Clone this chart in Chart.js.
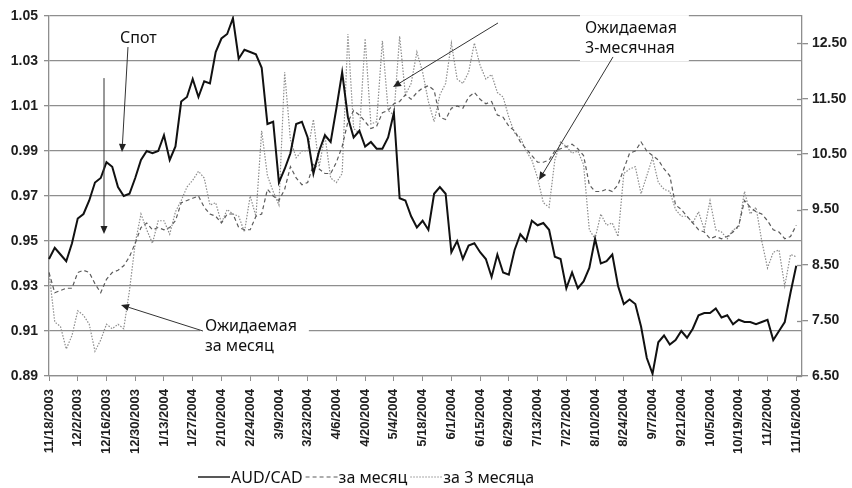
<!DOCTYPE html>
<html>
<head>
<meta charset="utf-8">
<script src="https://cdn.jsdelivr.net/npm/chart.js@4.4.1/dist/chart.umd.min.js"></script>
<style>
  html, body { margin: 0; padding: 0; background: #fff; }
</style>
</head>
<body>
<canvas id="fxChart" width="852" height="488"></canvas>
<script>
// AUD/CAD spot vs expected 1m / 3m rates, every 2nd business day from 11/18/2003

const startDate = new Date(2003, 10, 18);

const spotRate = [
  0.942, 0.947, 0.944, 0.941, 0.949, 0.960, 0.962, 0.968, 0.976, 0.978,
  0.985, 0.983, 0.974, 0.970, 0.971, 0.978, 0.986, 0.990, 0.989, 0.990,
  0.997, 0.986, 0.992, 1.012, 1.014, 1.022, 1.014, 1.021, 1.020, 1.034,
  1.040, 1.042, 1.049, 1.031, 1.035, 1.034, 1.033, 1.027, 1.002, 1.003,
  0.976, 0.982, 0.989, 1.002, 1.003, 0.996, 0.980, 0.990, 0.997, 0.994,
  1.009, 1.025, 1.005, 0.996, 0.999, 0.992, 0.994, 0.991, 0.991, 0.996,
  1.007, 0.969, 0.968, 0.961, 0.956, 0.959, 0.955, 0.971, 0.974, 0.971,
  0.945, 0.950, 0.942, 0.948, 0.949, 0.945, 0.942, 0.934, 0.944, 0.936,
  0.935, 0.946, 0.953, 0.950, 0.959, 0.957, 0.958, 0.955, 0.943, 0.942,
  0.929, 0.936, 0.929, 0.932, 0.938, 0.951, 0.940, 0.941, 0.944, 0.930,
  0.922, 0.924, 0.922, 0.912, 0.898, 0.891, 0.905, 0.908, 0.904, 0.906,
  0.910, 0.907, 0.911, 0.917, 0.918, 0.918, 0.920, 0.916, 0.917, 0.913,
  0.915, 0.914, 0.914, 0.913, 0.914, 0.915, 0.906, 0.910, 0.914, 0.927,
  0.939
];

const expected1m = [
  0.936, 0.927, 0.928, 0.929, 0.929, 0.936, 0.937, 0.936, 0.931, 0.927,
  0.933, 0.936, 0.937, 0.939, 0.943, 0.949, 0.956, 0.958, 0.955, 0.956,
  0.955, 0.956, 0.959, 0.967, 0.968, 0.969, 0.970, 0.965, 0.962, 0.961,
  0.958, 0.962, 0.962, 0.956, 0.955, 0.955, 0.961, 0.962, 0.973, 0.970,
  0.968, 0.973, 0.983, 0.978, 0.975, 0.976, 0.984, 0.982, 0.980, 0.980,
  0.985, 0.992, 1.003, 1.008, 1.006, 1.003, 1.000, 1.001, 1.007, 1.008,
  1.011, 1.012, 1.015, 1.013, 1.016, 1.018, 1.019, 1.017, 1.005, 1.004,
  1.009, 1.010, 1.009, 1.014, 1.016, 1.013, 1.011, 1.012, 1.006, 1.005,
  1.001, 0.999, 0.994, 0.991, 0.988, 0.985, 0.985, 0.986, 0.990, 0.991,
  0.992, 0.993, 0.991, 0.988, 0.975, 0.972, 0.972, 0.973, 0.972, 0.975,
  0.982, 0.989, 0.990, 0.994, 0.990, 0.988, 0.986, 0.982, 0.979, 0.966,
  0.964, 0.961, 0.958, 0.955, 0.954, 0.951, 0.952, 0.951, 0.952, 0.954,
  0.957, 0.968, 0.965, 0.963, 0.962, 0.959, 0.955, 0.954, 0.951, 0.952,
  0.957
];

const expected3m = [
  0.936, 0.914, 0.912, 0.902, 0.908, 0.919, 0.917, 0.913, 0.901, 0.906,
  0.913, 0.911, 0.913, 0.911, 0.928, 0.949, 0.962, 0.955, 0.949, 0.959,
  0.959, 0.953, 0.963, 0.968, 0.974, 0.977, 0.981, 0.978, 0.966, 0.967,
  0.958, 0.964, 0.962, 0.961, 0.954, 0.970, 0.961, 0.999, 0.979, 0.972,
  0.966, 1.025, 0.995, 0.987, 0.990, 0.990, 1.004, 0.983, 0.997, 0.978,
  0.976, 0.980, 1.042, 1.000, 0.998, 1.040, 1.002, 1.003, 1.039, 1.008,
  1.006, 1.041, 1.015, 1.020, 1.034, 1.025, 1.012, 1.003, 1.015, 1.020,
  1.038, 1.022, 1.020, 1.025, 1.038, 1.028, 1.022, 1.024, 1.016, 1.014,
  1.005, 0.998, 0.996, 0.990, 0.986, 0.978, 0.967, 0.965, 0.986, 0.994,
  0.992, 0.989, 0.990, 0.984, 0.955, 0.951, 0.962, 0.957, 0.958, 0.952,
  0.980, 0.982, 0.983, 0.971, 0.979, 0.987, 0.976, 0.973, 0.972, 0.964,
  0.961, 0.961, 0.958, 0.963, 0.955, 0.968, 0.955, 0.954, 0.951, 0.955,
  0.956, 0.972, 0.962, 0.965, 0.950, 0.938, 0.945, 0.946, 0.930, 0.944,
  0.943
];

const leftTicks = [0.89, 0.91, 0.93, 0.95, 0.97, 0.99, 1.01, 1.03, 1.05];
const rightTicks = [6.5, 7.5, 8.5, 9.5, 10.5, 11.5, 12.5];

// every 2nd business day, one extra slot past the last quote
const buildDates = (start, count, step) => {
  const out = [];
  const d = new Date(start);
  let n = 0;
  while (out.length < count) {
    const wd = d.getDay();
    if (wd !== 0 && wd !== 6) {
      if (n % step === 0) out.push((d.getMonth() + 1) + '/' + d.getDate() + '/' + d.getFullYear());
      n++;
    }
    d.setDate(d.getDate() + 1);
  }
  return out;
};
const dates = buildDates(startDate, spotRate.length + 1, 2);

// callouts, placed in (category index, rate) coordinates
const callouts = [
  { lines: ['Спот'], at: [12.35, 1.038] },
  { lines: ['Ожидаемая', 'за месяц'], at: [27.14, 0.910], box: true },
  { lines: ['Ожидаемая', '3-месячная'], at: [93.25, 1.0424], box: true }
];
const arrows = [
  { from: [13.74, 1.0362], to: [12.70, 0.9896] },
  { from: [9.57, 1.0224], to: [9.57, 0.9531] },
  { from: [26.79, 0.9100], to: [12.53, 0.9216] },
  { from: [78.11, 1.0469], to: [59.85, 1.0184] },
  { from: [98.12, 1.0318], to: [85.25, 0.9771] }
];

const gridColor = '#8e8e8e';
const tickFont = { family: 'Liberation Sans', weight: 'bold', size: 14 };
const noteFont = '16px "Noto Sans"';

const calloutPlugin = {
  id: 'callouts',
  afterDraw(chart) {
    const { ctx, scales: { x, y, y2 } } = chart;
    ctx.save();

    // right axis ticks cross the axis line
    ctx.strokeStyle = gridColor;
    ctx.lineWidth = 1.3;
    rightTicks.forEach(v => {
      const ty = Math.round(y2.getPixelForValue(v)) + 0.5;
      ctx.beginPath();
      ctx.moveTo(y2.left - 5, ty);
      ctx.lineTo(y2.left, ty);
      ctx.stroke();
    });

    ctx.font = noteFont;
    ctx.textBaseline = 'alphabetic';
    callouts.forEach(c => {
      const px = x.getPixelForValue(c.at[0]);
      const py = y.getPixelForValue(c.at[1]);
      if (c.box) {
        const w = Math.max(...c.lines.map(l => ctx.measureText(l).width));
        ctx.fillStyle = '#fff';
        ctx.fillRect(px - 5, py - 18, w + 17, c.lines.length * 20 + 6);
      }
      ctx.fillStyle = '#111';
      c.lines.forEach((l, i) => ctx.fillText(l, px, py + i * 20));
    });
    ctx.strokeStyle = '#333';
    ctx.fillStyle = '#222';
    ctx.lineWidth = 1;
    arrows.forEach(a => {
      const x0 = x.getPixelForValue(a.from[0]), y0 = y.getPixelForValue(a.from[1]);
      const x1 = x.getPixelForValue(a.to[0]), y1 = y.getPixelForValue(a.to[1]);
      const ang = Math.atan2(y1 - y0, x1 - x0);
      const hl = 8, hw = 3.5;
      const bx = x1 - Math.cos(ang) * hl, by = y1 - Math.sin(ang) * hl;
      ctx.beginPath();
      ctx.moveTo(x0, y0);
      ctx.lineTo(bx, by);
      ctx.stroke();
      ctx.beginPath();
      ctx.moveTo(x1, y1);
      ctx.lineTo(bx + Math.sin(ang) * hw, by - Math.cos(ang) * hw);
      ctx.lineTo(bx - Math.sin(ang) * hw, by + Math.cos(ang) * hw);
      ctx.closePath();
      ctx.fill();
    });
    ctx.restore();
  }
};

// legend row: line sample then label, packed left to right
const lineLegend = {
  id: 'lineLegend',
  afterDraw(chart) {
    const { ctx } = chart;
    let cx = 198;
    const cy = 477;
    ctx.save();
    ctx.font = noteFont;
    ctx.textBaseline = 'middle';
    chart.data.datasets.forEach(ds => {
      ctx.strokeStyle = ds.borderColor;
      ctx.lineWidth = Math.min(ds.borderWidth, 1.4);
      ctx.setLineDash(ds.borderDash || []);
      ctx.beginPath();
      ctx.moveTo(cx, cy);
      ctx.lineTo(cx + 32, cy);
      ctx.stroke();
      ctx.setLineDash([]);
      cx += 33;
      ctx.fillStyle = '#111';
      ctx.fillText(ds.label, cx, cy + 1);
      cx += ctx.measureText(ds.label).width + 3;
    });
    ctx.restore();
  }
};

new Chart(document.getElementById('fxChart'), {
  type: 'line',
  data: {
    labels: dates,
    datasets: [
      {
        label: 'AUD/CAD',
        data: spotRate,
        borderColor: '#111',
        borderWidth: 2,
        yAxisID: 'y'
      },
      {
        label: 'за месяц',
        data: expected1m,
        borderColor: '#5c5c5c',
        borderWidth: 1.2,
        borderDash: [4, 3],
        yAxisID: 'y'
      },
      {
        label: 'за 3 месяца',
        data: expected3m,
        borderColor: '#8c8c8c',
        borderWidth: 1.2,
        borderDash: [1.5, 1.5],
        yAxisID: 'y'
      }
    ]
  },
  options: {
    responsive: false,
    devicePixelRatio: 1,
    animation: false,
    layout: { padding: { top: 16, bottom: 22, left: 0, right: 0 } },
    elements: {
      point: { radius: 0, hoverRadius: 0 },
      line: { tension: 0, fill: false }
    },
    plugins: {
      legend: { display: false },
      tooltip: { enabled: false }
    },
    scales: {
      x: {
        type: 'category',
        offset: false,
        grid: { drawOnChartArea: false, drawTicks: true, tickLength: 5, color: gridColor },
        border: { color: gridColor, width: 1.3 },
        ticks: {
          autoSkip: false,
          minRotation: 90,
          maxRotation: 90,
          padding: 8,
          color: '#1e1e1e',
          font: { family: 'Liberation Sans', weight: 'bold', size: 13 }
        },
        afterBuildTicks: s => { s.ticks = s.ticks.filter(t => t.value % 5 === 0 && t.value < spotRate.length); },
        afterFit: s => { s.height = 90; s.paddingLeft = 0; s.paddingRight = 0; }
      },
      y: {
        position: 'left',
        min: 0.89,
        max: 1.05,
        afterBuildTicks: s => { s.ticks = leftTicks.map(v => ({ value: v })); },
        ticks: { callback: v => v.toFixed(2), padding: 6, color: '#1e1e1e', font: tickFont },
        grid: { color: gridColor, lineWidth: 1.3, tickLength: 5 },
        border: { color: gridColor, width: 1.3 },
        afterFit: s => { s.width = 49; s.paddingTop = 0; s.paddingBottom = 0; }
      },
      y2: {
        position: 'right',
        min: 6.5,
        max: 12.99,
        afterBuildTicks: s => { s.ticks = rightTicks.map(v => ({ value: v })); },
        ticks: { callback: v => v.toFixed(2), padding: 4, color: '#1e1e1e', font: tickFont },
        grid: { drawOnChartArea: false, tickLength: 6, color: gridColor, lineWidth: 1.3 },
        border: { color: gridColor, width: 1.3 },
        afterFit: s => { s.width = 50; s.paddingTop = 0; s.paddingBottom = 0; }
      }
    }
  },
  plugins: [calloutPlugin, lineLegend]
});
</script>
</body>
</html>
